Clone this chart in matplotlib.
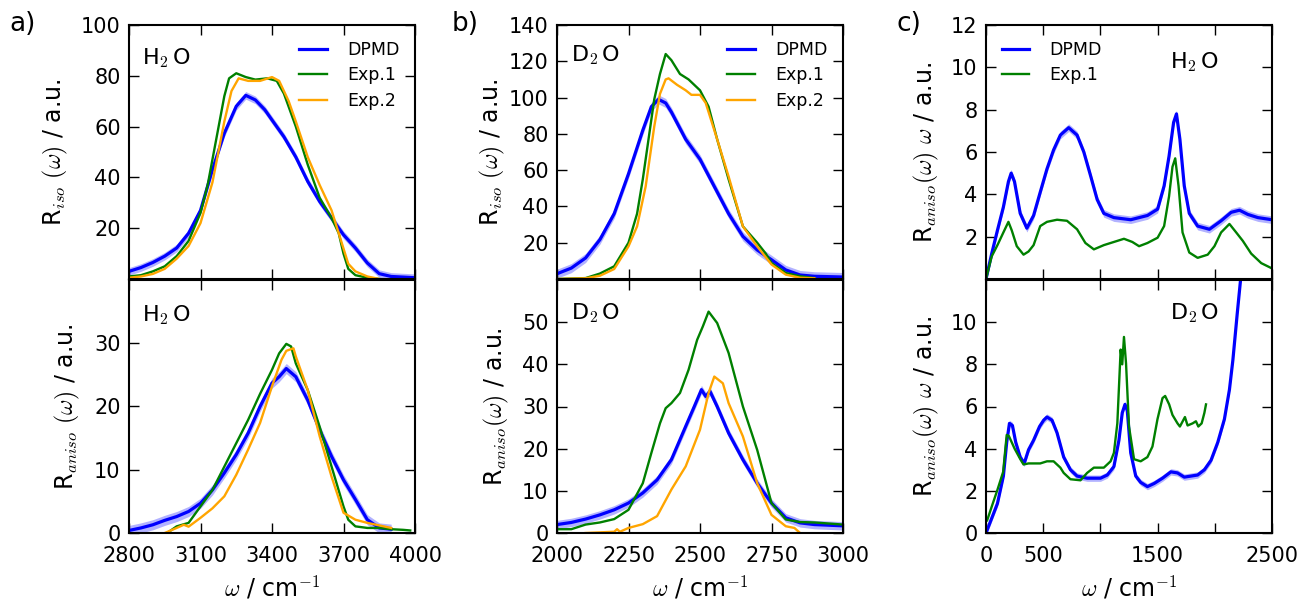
import matplotlib
matplotlib.use("Agg")
import matplotlib.pyplot as plt
import numpy as np

plt.rcParams['mathtext.fontset'] = 'cm'
plt.rcParams['font.family'] = ['DejaVu Sans']

# ---------------- Panel a (H2O) ----------------
a_iso_dpmd_x = [2800, 2850, 2900, 2950, 3000, 3050, 3100, 3150, 3200, 3250, 3290, 3330, 3370, 3400, 3450,
                3500, 3550, 3600, 3650, 3700, 3750, 3800, 3850, 3900, 4000]
a_iso_dpmd_y = [3, 4.5, 6.5, 9, 12.2, 18, 27, 43, 57.4, 68, 72.3, 70.5, 66.6, 62.6, 56,
                48, 38.4, 30.5, 24, 17.4, 12.2, 6.3, 2.1, 1, 0.5]
a_iso_exp1_x = [2800, 2850, 2900, 2950, 3000, 3050, 3100, 3130, 3150, 3180, 3200, 3220, 3250, 3290, 3330, 3380,
                3420, 3450, 3500, 3550, 3600, 3650, 3680, 3700, 3720, 3750, 3800, 3850]
a_iso_exp1_y = [1, 1.5, 3, 5, 9, 15, 26, 37, 47, 62, 72, 79, 81, 79.5, 78.5, 79,
                78, 73, 60, 45, 32, 24, 18, 10, 4, 1.5, 0.5, 0]
a_iso_exp2_x = [2800, 2850, 2900, 2950, 3000, 3050, 3100, 3150, 3200, 3230, 3260, 3300, 3350, 3400, 3430, 3470,
                3500, 3550, 3600, 3650, 3680, 3700, 3720, 3750, 3800, 3850]
a_iso_exp2_y = [0.5, 1, 2, 4, 8, 13, 22, 38, 62, 74, 79, 78, 78, 79.5, 78, 70,
                62, 48, 37, 27, 18, 12, 6, 3, 1, 0]

a_an_dpmd_x = [2800, 2850, 2900, 2950, 3000, 3050, 3100, 3150, 3200, 3250, 3300, 3350, 3400, 3430, 3460, 3500,
               3550, 3600, 3650, 3700, 3750, 3800, 3850, 3900]
a_an_dpmd_y = [0.4, 0.8, 1.3, 2.0, 2.6, 3.4, 4.7, 6.8, 9.5, 12.4, 15.8, 20, 23.7, 24.7, 26, 24.7,
               21, 16.3, 12.1, 8.4, 5.3, 2.1, 0.8, 0.6]
a_an_exp1_x = [2960, 3000, 3050, 3100, 3150, 3200, 3250, 3300, 3350, 3400, 3430, 3460, 3480, 3500, 3550, 3600,
               3650, 3700, 3720, 3750, 3800, 3850, 3900, 3950, 3980]
a_an_exp1_y = [0, 1.05, 1.6, 4.2, 6.8, 10.5, 14.2, 17.9, 22, 25.8, 28.4, 29.9, 29.5, 26.8, 22.6, 16.8,
               10.5, 4.2, 2.1, 1.05, 0.8, 0.8, 0.6, 0.5, 0.4]
a_an_exp2_x = [2950, 3000, 3030, 3050, 3100, 3150, 3200, 3250, 3300, 3350, 3400, 3440, 3460, 3490, 3500, 3550,
               3600, 3650, 3700, 3750, 3800, 3850, 3900]
a_an_exp2_y = [0, 0.8, 1.3, 1.0, 2.4, 3.9, 5.8, 9.2, 13.2, 17.4, 23.2, 27.4, 28.8, 29.2, 27.9, 22.6,
               15.3, 8.9, 3.2, 2.1, 1.6, 1.2, 0.8]

# ---------------- Panel b (D2O) ----------------
b_iso_dpmd_x = [2000, 2050, 2100, 2150, 2200, 2250, 2300, 2330, 2355, 2380, 2400, 2450, 2500, 2550, 2600, 2650,
                2700, 2750, 2800, 2850, 2900, 3000]
b_iso_dpmd_y = [2.9, 6, 11.6, 21.7, 36, 58, 82, 95, 99, 97, 92, 77, 66, 51, 36, 23.5,
                16, 10.6, 5, 2.2, 1.5, 1.1]
b_iso_exp1_x = [2000, 2100, 2150, 2200, 2250, 2280, 2300, 2320, 2340, 2360, 2380, 2400, 2430, 2460, 2500, 2530,
                2560, 2600, 2650, 2700, 2730, 2750, 2800, 2850, 2900]
b_iso_exp1_y = [0, 0.5, 3, 7, 20, 36, 55, 77, 99, 113, 124, 120.6, 113, 110, 104, 95,
                77, 55, 29, 20, 14, 8.8, 3.3, 1.5, 0.5]
b_iso_exp2_x = [2000, 2100, 2150, 2200, 2250, 2280, 2310, 2340, 2360, 2380, 2390, 2420, 2450, 2470, 2500, 2520,
                2560, 2600, 2650, 2700, 2750, 2800, 2850, 2900]
b_iso_exp2_y = [0, 0.4, 1.8, 5.5, 18, 29, 51, 84, 102, 110, 110.6, 107, 104, 101.5, 101.5, 97,
                77, 56.5, 29, 18, 8, 2.4, 0.7, 0.4]

b_an_dpmd_x = [2000, 2050, 2100, 2150, 2200, 2250, 2300, 2350, 2400, 2450, 2480, 2505, 2520, 2535, 2560, 2600,
               2650, 2700, 2750, 2800, 2850, 2900, 3000]
b_an_dpmd_y = [2.0, 2.5, 3.3, 4.3, 5.5, 7.1, 9.5, 12.6, 17.4, 25.3, 30, 34, 32.4, 33.6, 30, 23.7,
               17.4, 11.8, 7.1, 3.6, 2.4, 2.0, 1.7]
b_an_exp1_x = [2000, 2050, 2100, 2150, 2200, 2250, 2300, 2330, 2360, 2380, 2400, 2430, 2460, 2490, 2510, 2530,
               2560, 2600, 2650, 2700, 2750, 2800, 2850, 2900, 3000]
b_an_exp1_y = [0.9, 0.9, 2.0, 2.5, 3.3, 5.5, 11.8, 19, 26, 29.6, 30.8, 33.2, 38.7, 45.8, 49, 52.5,
               49.8, 42.7, 30, 19.7, 7.1, 3.2, 2.6, 2.5, 2.0]
b_an_exp2_x = [2100, 2200, 2210, 2220, 2250, 2300, 2350, 2400, 2450, 2500, 2530, 2550, 2580, 2600, 2650, 2700,
               2750, 2800, 2830, 2850]
b_an_exp2_y = [0, 0.3, 0.9, 0.3, 1.2, 2.1, 4.0, 10.3, 15.8, 24.5, 33.2, 37.1, 35.5, 30.8, 22.9, 11.8,
               4.3, 1.6, 1.2, 0]

# ---------------- Panel c (low frequency) ----------------
c_h2o_dpmd_x = [0, 50, 100, 152, 196, 220, 249, 299, 357, 416, 474, 533, 591, 650, 723, 796,
                855, 913, 972, 1030, 1118, 1265, 1411, 1500, 1557, 1600, 1640, 1665, 1695, 1733, 1777, 1850,
                1953, 2055, 2143, 2216, 2289, 2377, 2500]
c_h2o_dpmd_y = [0, 1.2, 2.3, 3.4, 4.6, 5.0, 4.6, 3.1, 2.4, 3.0, 4.1, 5.2, 6.1, 6.8, 7.15, 6.8,
                6.0, 4.9, 3.75, 3.1, 2.9, 2.8, 3.0, 3.3, 4.4, 5.8, 7.4, 7.8, 6.6, 4.4, 3.1, 2.5,
                2.35, 2.75, 3.15, 3.25, 3.05, 2.9, 2.8]
c_h2o_exp1_x = [0, 50, 100, 152, 196, 225, 269, 328, 372, 416, 474, 533, 621, 708, 796, 869,
                943, 1030, 1118, 1206, 1279, 1338, 1411, 1500, 1557, 1600, 1630, 1654, 1683, 1718, 1777, 1850,
                1938, 1997, 2055, 2128, 2187, 2245, 2318, 2406, 2500]
c_h2o_exp1_y = [0, 1.07, 1.6, 2.2, 2.7, 2.3, 1.55, 1.15, 1.3, 1.6, 2.5, 2.7, 2.8, 2.75, 2.35, 1.7,
                1.4, 1.6, 1.75, 1.9, 1.75, 1.55, 1.7, 1.95, 2.5, 3.9, 5.3, 5.7, 4.4, 2.2, 1.25, 1.0,
                1.15, 1.55, 2.2, 2.6, 2.2, 1.8, 1.2, 0.75, 0.5]

c_d2o_dpmd_x = [0, 50, 100, 152, 181, 205, 231, 260, 299, 334, 372, 416, 468, 504, 533, 577,
                621, 679, 738, 796, 884, 1001, 1060, 1118, 1162, 1191, 1215, 1235, 1265, 1309, 1352, 1411,
                1470, 1543, 1616, 1674, 1733, 1792, 1850, 1909, 1967, 2026, 2084, 2128, 2158, 2196, 2225, 2245]
c_d2o_dpmd_y = [0, 0.7, 1.4, 2.7, 4.3, 5.2, 5.1, 4.3, 3.6, 3.3, 3.95, 4.4, 5.05, 5.35, 5.5, 5.35,
                4.75, 3.6, 3.0, 2.7, 2.6, 2.6, 2.75, 3.15, 4.4, 5.7, 6.1, 5.8, 3.8, 2.7, 2.4, 2.2,
                2.35, 2.6, 2.9, 2.85, 2.65, 2.7, 2.75, 3.0, 3.45, 4.3, 5.4, 6.8, 8.2, 10.4, 12.0, 12.8]
c_d2o_exp1_x = [10, 50, 100, 150, 181, 200, 250, 300, 328, 372, 474, 533, 591, 650, 679, 738,
                826, 884, 943, 1030, 1089, 1118, 1148, 1177, 1191, 1206, 1224, 1250, 1294, 1352, 1411, 1455,
                1499, 1543, 1566, 1601, 1630, 1674, 1695, 1739, 1762, 1806, 1835, 1856, 1885, 1909, 1923]
c_d2o_exp1_y = [0.6, 1.25, 2.05, 2.9, 4.65, 4.6, 4.0, 3.5, 3.25, 3.3, 3.3, 3.4, 3.4, 3.1, 2.85, 2.55,
                2.5, 2.85, 3.1, 3.1, 3.4, 3.8, 5.2, 8.7, 8.0, 9.3, 8.05, 5.05, 3.5, 3.4, 3.6, 4.1,
                5.4, 6.4, 6.5, 6.1, 5.6, 5.2, 5.05, 5.5, 5.1, 5.2, 5.3, 5.05, 5.2, 5.7, 6.1]

# band half-widths of the DPMD uncertainty
band_a_iso, band_a_an = 1.5, 0.8
band_b_iso, band_b_an = 2.5, 1.0
band_c_h2o, band_c_d2o = 0.18, 0.15

BLUE, GREEN, ORANGE = '#0000ff', '#008000', '#ffa500'

FIG_W, FIG_H = 1302, 600
fig = plt.figure(figsize=(FIG_W / 100, FIG_H / 100), dpi=100)
AX_W = 286
lefts_px = [129, 557, 986]
top_px = (25, 279)
bot_px = (280, 533)


def px_axes(left, top, bottom):
    return [left / FIG_W, 1 - bottom / FIG_H, AX_W / FIG_W, (bottom - top) / FIG_H]


def style(ax):
    ax.tick_params(direction='in', top=True, right=True, length=7, width=1,
                   labelsize=15)
    ax.tick_params(axis='x', pad=9.5)
    ax.tick_params(axis='y', pad=6)
    for s in ax.spines.values():
        s.set_linewidth(1.5)


def dpmd(ax, x, y, band, label=None):
    x = np.asarray(x, float)
    y = np.asarray(y, float)
    ax.fill_between(x, y - band, y + band, color=BLUE, alpha=0.3, lw=0)
    ax.plot(x, y, color=BLUE, lw=2.3, label=label)


def exp(ax, x, y, color, label=None):
    ax.plot(x, y, color=color, lw=1.7, label=label)


def ylab(ax, text, left_px, base_px):
    ax.set_ylabel(text, fontsize=17, va='baseline')
    ax.yaxis.set_label_coords((base_px - left_px) / AX_W, 0.5)


def xlab(ax, top, bottom):
    ax.set_xlabel(r'$\omega$ / cm$^{-1}$', fontsize=17, va='baseline')
    ax.xaxis.set_label_coords(0.5, (bottom - 596) / (bottom - top))


axes = []
for i in range(3):
    at = fig.add_axes(px_axes(lefts_px[i], *top_px))
    ab = fig.add_axes(px_axes(lefts_px[i], *bot_px))
    style(at)
    style(ab)
    axes.append((at, ab))

leg_kw = dict(frameon=False, fontsize=12.5, handlelength=1.6, handletextpad=1.15, labelspacing=0.45)
ann_fs = 16
H2O = r'H$_2\,$O'
D2O = r'D$_2\,$O'

# Panel a
at, ab = axes[0]
dpmd(at, a_iso_dpmd_x, a_iso_dpmd_y, band_a_iso, 'DPMD')
exp(at, a_iso_exp1_x, a_iso_exp1_y, GREEN, 'Exp.1')
exp(at, a_iso_exp2_x, a_iso_exp2_y, ORANGE, 'Exp.2')
at.set_xlim(2800, 4000)
at.set_ylim(0, 100)
at.set_yticks([20, 40, 60, 80, 100])
at.set_xticks([2800, 3100, 3400, 3700, 4000])
at.set_xticklabels([])
ylab(at, r'R$_{iso}$ $(\omega)$ / a.u.', 129, 61)
at.text(0.045, 0.87, H2O, transform=at.transAxes, fontsize=ann_fs, va='center', ha='left')
at.legend(loc='upper right', **leg_kw)

dpmd(ab, a_an_dpmd_x, a_an_dpmd_y, band_a_an)
exp(ab, a_an_exp1_x, a_an_exp1_y, GREEN)
exp(ab, a_an_exp2_x, a_an_exp2_y, ORANGE)
ab.set_xlim(2800, 4000)
ab.set_ylim(0, 40)
ab.set_yticks([0, 10, 20, 30])
ab.set_xticks([2800, 3100, 3400, 3700, 4000])
ylab(ab, r'R$_{aniso}$ $(\omega)$ / a.u.', 129, 73)
xlab(ab, *bot_px)
ab.text(0.045, 0.86, H2O, transform=ab.transAxes, fontsize=ann_fs, va='center', ha='left')

# Panel b
at, ab = axes[1]
dpmd(at, b_iso_dpmd_x, b_iso_dpmd_y, band_b_iso, 'DPMD')
exp(at, b_iso_exp1_x, b_iso_exp1_y, GREEN, 'Exp.1')
exp(at, b_iso_exp2_x, b_iso_exp2_y, ORANGE, 'Exp.2')
at.set_xlim(2000, 3000)
at.set_ylim(0, 140)
at.set_yticks([20, 40, 60, 80, 100, 120, 140])
at.set_xticks([2000, 2250, 2500, 2750, 3000])
at.set_xticklabels([])
ylab(at, r'R$_{iso}$ $(\omega)$ / a.u.', 557, 498)
at.text(0.05, 0.88, D2O, transform=at.transAxes, fontsize=ann_fs, va='center', ha='left')
at.legend(loc='upper right', **leg_kw)

dpmd(ab, b_an_dpmd_x, b_an_dpmd_y, band_b_an)
exp(ab, b_an_exp1_x, b_an_exp1_y, GREEN)
exp(ab, b_an_exp2_x, b_an_exp2_y, ORANGE)
ab.set_xlim(2000, 3000)
ab.set_ylim(0, 60)
ab.set_yticks([0, 10, 20, 30, 40, 50])
ab.set_xticks([2000, 2250, 2500, 2750, 3000])
ylab(ab, r'R$_{aniso}$$(\omega)$ / a.u.', 557, 502)
xlab(ab, *bot_px)
ab.text(0.05, 0.87, D2O, transform=ab.transAxes, fontsize=ann_fs, va='center', ha='left')

# Panel c
at, ab = axes[2]
dpmd(at, c_h2o_dpmd_x, c_h2o_dpmd_y, band_c_h2o, 'DPMD')
exp(at, c_h2o_exp1_x, c_h2o_exp1_y, GREEN, 'Exp.1')
at.set_xlim(0, 2500)
at.set_ylim(0, 12)
at.set_yticks([2, 4, 6, 8, 10, 12])
at.set_xticks([0, 500, 1000, 1500, 2000, 2500])
at.set_xticklabels([])
ylab(at, r'R$_{aniso}$$(\omega)$ $\omega$ / a.u.', 986, 932)
at.text(0.643, 0.855, H2O, transform=at.transAxes, fontsize=ann_fs, va='center', ha='left')
at.legend(loc='upper left', **leg_kw)

dpmd(ab, c_d2o_dpmd_x, c_d2o_dpmd_y, band_c_d2o)
exp(ab, c_d2o_exp1_x, c_d2o_exp1_y, GREEN)
ab.set_xlim(0, 2500)
ab.set_ylim(0, 12)
ab.set_yticks([0, 2, 4, 6, 8, 10])
ab.set_xticks([0, 500, 1000, 1500, 2000, 2500])
ab.set_xticklabels(['0', '500', '', '1500', '', '2500'])
ylab(ab, r'R$_{aniso}$$(\omega)$ $\omega$ / a.u.', 986, 932)
xlab(ab, *bot_px)
ab.text(0.643, 0.87, D2O, transform=ab.transAxes, fontsize=ann_fs, va='center', ha='left')

for lbl, xx in zip(['a)', 'b)', 'c)'], [9, 452, 897]):
    fig.text(xx / FIG_W, 1 - 24 / FIG_H, lbl, fontsize=19, va='center', ha='left')

fig.savefig('out.png', dpi=100)
